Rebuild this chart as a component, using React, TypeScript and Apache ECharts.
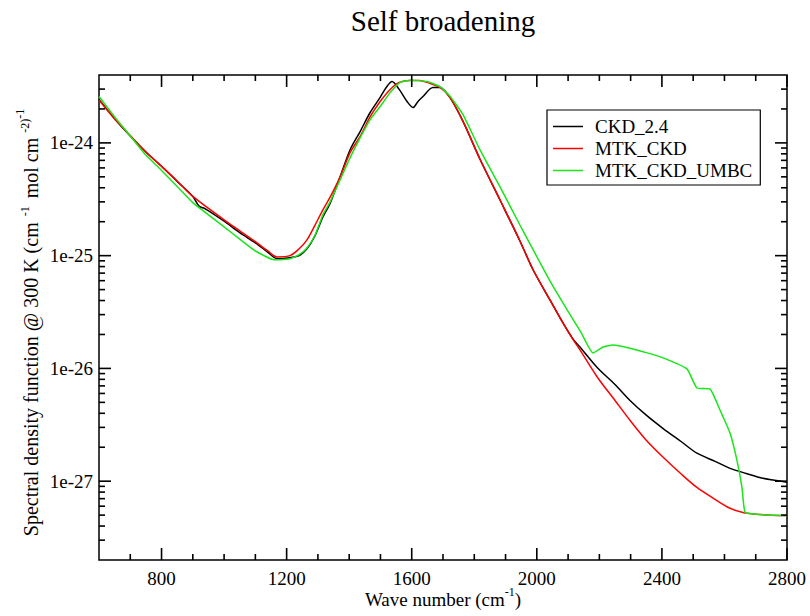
import React, { useEffect, useRef } from 'react';
import * as echarts from 'echarts';

const FONT = 'Liberation Serif, Times New Roman, serif';

const seriesNames = ['CKD_2.4', 'MTK_CKD', 'MTK_CKD_UMBC'];
const seriesColors = ['#000000', '#ff0000', '#19e619'];

const ckdX = [600, 650, 700, 750, 800, 850, 900, 920, 940, 1000, 1050, 1100, 1140, 1170, 1210, 1240, 1265, 1290, 1316, 1339, 1371, 1403, 1435, 1467, 1499, 1520, 1537, 1560, 1585, 1604, 1620, 1636, 1668, 1690, 1722, 1764, 1818, 1882, 1946, 1988, 2042, 2084, 2116, 2138, 2193, 2250, 2298, 2350, 2404, 2460, 2512, 2570, 2618, 2670, 2723, 2760, 2800];
const ckdY = [2.43e-24, 1.64e-24, 1.15e-24, 8.3e-25, 6.2e-25, 4.55e-25, 3.35e-25, 2.75e-25, 2.6e-25, 2.02e-25, 1.6e-25, 1.3e-25, 1.07e-25, 9.4e-26, 9.6e-26, 1.0e-25, 1.15e-25, 1.49e-25, 2.2e-25, 2.9e-25, 5.0e-25, 8.7e-25, 1.26e-24, 1.86e-24, 2.53e-24, 3.15e-24, 3.5e-24, 2.98e-24, 2.33e-24, 2.06e-24, 2.33e-24, 2.58e-24, 3.1e-24, 3.1e-24, 2.53e-24, 1.55e-24, 7.2e-25, 3.13e-25, 1.35e-25, 7.5e-26, 4.05e-26, 2.52e-26, 1.82e-26, 1.55e-26, 1.02e-26, 7.2e-27, 5.2e-27, 3.85e-27, 2.93e-27, 2.26e-27, 1.77e-27, 1.5e-27, 1.3e-27, 1.17e-27, 1.06e-27, 1.02e-27, 9.8e-28];

const mtkX = [600, 650, 700, 750, 800, 850, 900, 1000, 1050, 1100, 1140, 1169, 1211, 1240, 1265, 1290, 1316, 1339, 1371, 1403, 1435, 1467, 1499, 1531, 1560, 1595, 1625, 1649, 1690, 1722, 1764, 1818, 1882, 1946, 1988, 2042, 2084, 2116, 2138, 2193, 2250, 2298, 2350, 2404, 2460, 2512, 2570, 2618, 2659, 2700, 2750, 2800];
const mtkY = [2.4e-24, 1.63e-24, 1.16e-24, 8.3e-25, 6.2e-25, 4.6e-25, 3.35e-25, 2.08e-25, 1.66e-25, 1.33e-25, 1.1e-25, 9.75e-26, 1.0e-25, 1.15e-25, 1.38e-25, 1.85e-25, 2.55e-25, 3.3e-25, 5.0e-25, 8.2e-25, 1.14e-24, 1.71e-24, 2.33e-24, 2.98e-24, 3.44e-24, 3.58e-24, 3.58e-24, 3.44e-24, 3.1e-24, 2.53e-24, 1.55e-24, 7.2e-25, 3.13e-25, 1.35e-25, 7.5e-26, 4.05e-26, 2.52e-26, 1.8e-26, 1.46e-26, 8.4e-27, 5.2e-27, 3.47e-27, 2.31e-27, 1.63e-27, 1.17e-27, 8.8e-28, 6.9e-28, 5.75e-28, 5.28e-28, 5.1e-28, 5.0e-28, 4.97e-28];

const umbcX = [600, 650, 700, 750, 800, 850, 900, 1000, 1050, 1100, 1160, 1211, 1240, 1265, 1290, 1316, 1339, 1371, 1403, 1435, 1467, 1499, 1531, 1563, 1595, 1649, 1690, 1722, 1764, 1818, 1882, 1946, 1988, 2042, 2097, 2140, 2180, 2212, 2244, 2298, 2350, 2404, 2480, 2512, 2554, 2586, 2618, 2640, 2656, 2666, 2700, 2750, 2800];
const umbcY = [2.58e-24, 1.7e-24, 1.15e-24, 7.8e-25, 5.7e-25, 4.1e-25, 2.95e-25, 1.8e-25, 1.4e-25, 1.1e-25, 9.2e-26, 9.4e-26, 1.02e-25, 1.17e-25, 1.5e-25, 2.3e-25, 3.0e-25, 4.7e-25, 7.4e-25, 1.11e-24, 1.61e-24, 2.1e-24, 2.79e-24, 3.44e-24, 3.6e-24, 3.5e-24, 3.16e-24, 2.6e-24, 1.78e-24, 8.7e-25, 4.09e-25, 1.87e-25, 1.13e-25, 5.97e-26, 3.3e-26, 2.12e-26, 1.37e-26, 1.55e-26, 1.61e-26, 1.51e-26, 1.38e-26, 1.24e-26, 9.9e-27, 6.7e-27, 6.55e-27, 4.26e-27, 2.66e-27, 1.53e-27, 8.8e-28, 5.28e-28, 5.1e-28, 5.0e-28, 4.97e-28];

// plot extent (same units as the data)
const yMin = 2e-28;
const yMax = 4e-24;
const xMin = 600;
const xMax = 2800;

const xMajorTicks = [800, 1200, 1600, 2000, 2400, 2800];
const xMinorTicks = [700, 900, 1000, 1100, 1300, 1400, 1500, 1700, 1800, 1900, 2100, 2200, 2300, 2500, 2600, 2700];
const yMajorTicks = [1e-27, 1e-26, 1e-25, 1e-24];
const yMinorTicks = [
  3e-28, 4e-28, 5e-28, 6e-28, 7e-28, 8e-28, 9e-28,
  2e-27, 3e-27, 4e-27, 5e-27, 6e-27, 7e-27, 8e-27, 9e-27,
  2e-26, 3e-26, 4e-26, 5e-26, 6e-26, 7e-26, 8e-26, 9e-26,
  2e-25, 3e-25, 4e-25, 5e-25, 6e-25, 7e-25, 8e-25, 9e-25,
  2e-24, 3e-24,
];

const titleText = 'Self broadening';
// axis titles as pieces: [text, superscript level (0 = normal)]
const xNameParts: [string, number][] = [['Wave number (cm', 0], ['-1', 1], [')', 0]];
const yNameParts: [string, number][] = [
  ['Spectral density function @ 300 K (cm', 0],
  ['-1', 1],
  ['mol cm', 0],
  ['-2)', 1],
  ['-1', 2],
];

// The y axis is logarithmic: values are placed on a linear axis by their log10.
const lg = (v: number) => Math.log10(v);

function zip(xs: number[], ys: number[]) {
  return xs.map((x, i) => [x, lg(ys[i])]);
}

export default function App() {
  const ref = useRef<HTMLDivElement>(null);
  useEffect(() => {
    document.body.style.margin = '0';
    const chart = echarts.init(ref.current as HTMLDivElement, null, { renderer: 'svg' });
    const labelStyle = { fontSize: 19, fontFamily: FONT, color: '#000' };

    const lineSeries = [
      [ckdX, ckdY],
      [mtkX, mtkY],
      [umbcX, umbcY],
    ].map(([xs, ys], i) => ({
      name: seriesNames[i],
      type: 'line',
      data: zip(xs as number[], ys as number[]),
      symbol: 'none',
      showSymbol: false,
      smooth: i === 2 ? 0.15 : 0.3,
      lineStyle: { color: seriesColors[i], width: 1.5 },
      itemStyle: { color: seriesColors[i] },
    }));

    const titleGraphic = {
      type: 'text',
      x: 443,
      y: 6,
      silent: true,
      style: {
        text: titleText,
        fontSize: 29,
        fontFamily: FONT,
        fill: '#000',
        align: 'center',
        verticalAlign: 'top',
      },
    };

    const option: any = {
      animation: false,
      graphic: [titleGraphic],
      grid: {
        left: 99,
        right: 23,
        top: 75,
        bottom: 56,
        show: true,
        borderColor: '#000',
        borderWidth: 1.5,
      },
      legend: {
        data: seriesNames,
        orient: 'vertical',
        left: 547,
        top: 110,
        icon: 'rect',
        itemWidth: 30,
        itemHeight: 1.5,
        itemGap: 3,
        padding: [7, 8, 5, 6],
        borderColor: '#000',
        borderWidth: 1.2,
        borderRadius: 0,
        backgroundColor: '#fff',
        textStyle: { ...labelStyle, padding: [0, 0, 0, 7] },
      },
      xAxis: {
        type: 'value',
        min: xMin,
        max: xMax,
        axisLine: { show: false },
        splitLine: { show: false },
        axisTick: { show: false },
        axisLabel: {
          show: true,
          customValues: xMajorTicks,
          formatter: (v: number) => String(v),
          margin: 9,
          ...labelStyle,
        },
      },
      yAxis: {
        type: 'value',
        min: lg(yMin),
        max: lg(yMax),
        axisLine: { show: false },
        splitLine: { show: false },
        axisTick: { show: false },
        axisLabel: {
          show: true,
          customValues: yMajorTicks.map(lg),
          formatter: (v: number) => '1e' + Math.round(v),
          margin: 6,
          ...labelStyle,
        },
      },
      series: lineSeries,
    };
    chart.setOption(option);

    // pixel frame of the plot, from the chart's own scales
    const toPx = (x: number, y: number) => chart.convertToPixel({ xAxisIndex: 0, yAxisIndex: 0 }, [x, y]) as number[];
    const c0 = toPx(xMin, lg(yMin));
    const c1 = toPx(xMax, lg(yMax));
    const left = c0[0];
    const bottom = c0[1];
    const right = c1[0];
    const top = c1[1];

    // ticks, mirrored on all four sides, drawn as thin filled bars
    const T = 1.6;
    const ticks: any[] = [];
    const bar = (x: number, y: number, w: number, h: number) =>
      ticks.push({ type: 'rect', silent: true, z: 10, shape: { x, y, width: w, height: h }, style: { fill: '#000' } });
    const addX = (v: number, len: number) => {
      const px = toPx(v, lg(yMin))[0];
      bar(px - T / 2, bottom - len, T, len);
      bar(px - T / 2, top, T, len);
    };
    const addY = (v: number, len: number) => {
      const py = toPx(xMin, lg(v))[1];
      bar(left, py - T / 2, len, T);
      bar(right - len, py - T / 2, len, T);
    };
    xMajorTicks.forEach((v) => addX(v, 12));
    xMinorTicks.forEach((v) => addX(v, 6));
    yMajorTicks.forEach((v) => addY(v, 12));
    yMinorTicks.forEach((v) => addY(v, 6));

    const ctx = document.createElement('canvas').getContext('2d') as CanvasRenderingContext2D;
    const measure = (t: string, size: number) => {
      ctx.font = size + 'px ' + FONT;
      return ctx.measureText(t).width;
    };

    const texts: any[] = [];
    // x title
    {
      const main = 19;
      const sup = 12;
      const widths = xNameParts.map(([t, s]) => measure(t, s ? sup : main));
      const total = widths.reduce((a, b) => a + b, 0);
      let cx = (left + right) / 2 - total / 2;
      const y0 = bottom + 30;
      xNameParts.forEach(([t, s], i) => {
        texts.push({
          type: 'text',
          silent: true,
          x: cx,
          y: s ? y0 - 4 : y0,
          style: { text: t, fontSize: s ? sup : main, fontFamily: FONT, fill: '#000', align: 'left', verticalAlign: 'top' },
        });
        cx += widths[i];
      });
    }
    // y title (rotated, reading upwards)
    {
      const main = 20;
      const sup = 12;
      const gaps = [6, 8, 5, 0, 0];
      const widths = yNameParts.map(([t, s]) => measure(t, s ? sup : main));
      const total = widths.reduce((a, b) => a + b, 0) + gaps.reduce((a, b) => a + b, 0);
      let cy = (top + bottom) / 2 + 5 + total / 2;
      const xBase = left - 58;
      yNameParts.forEach(([t, s], i) => {
        const raise = s === 2 ? 15 : s === 1 ? 10 : 0;
        texts.push({
          type: 'text',
          silent: true,
          x: xBase - raise,
          y: cy,
          rotation: Math.PI / 2,
          style: { text: t, fontSize: s ? sup : main, fontFamily: FONT, fill: '#000', align: 'left', verticalAlign: 'bottom' },
        });
        cy -= widths[i] + gaps[i];
      });
    }

    chart.setOption({ graphic: [titleGraphic, ...texts, ...ticks] });
    return () => chart.dispose();
  }, []);
  return <div ref={ref} style={{ width: 810, height: 616 }} />;
}
